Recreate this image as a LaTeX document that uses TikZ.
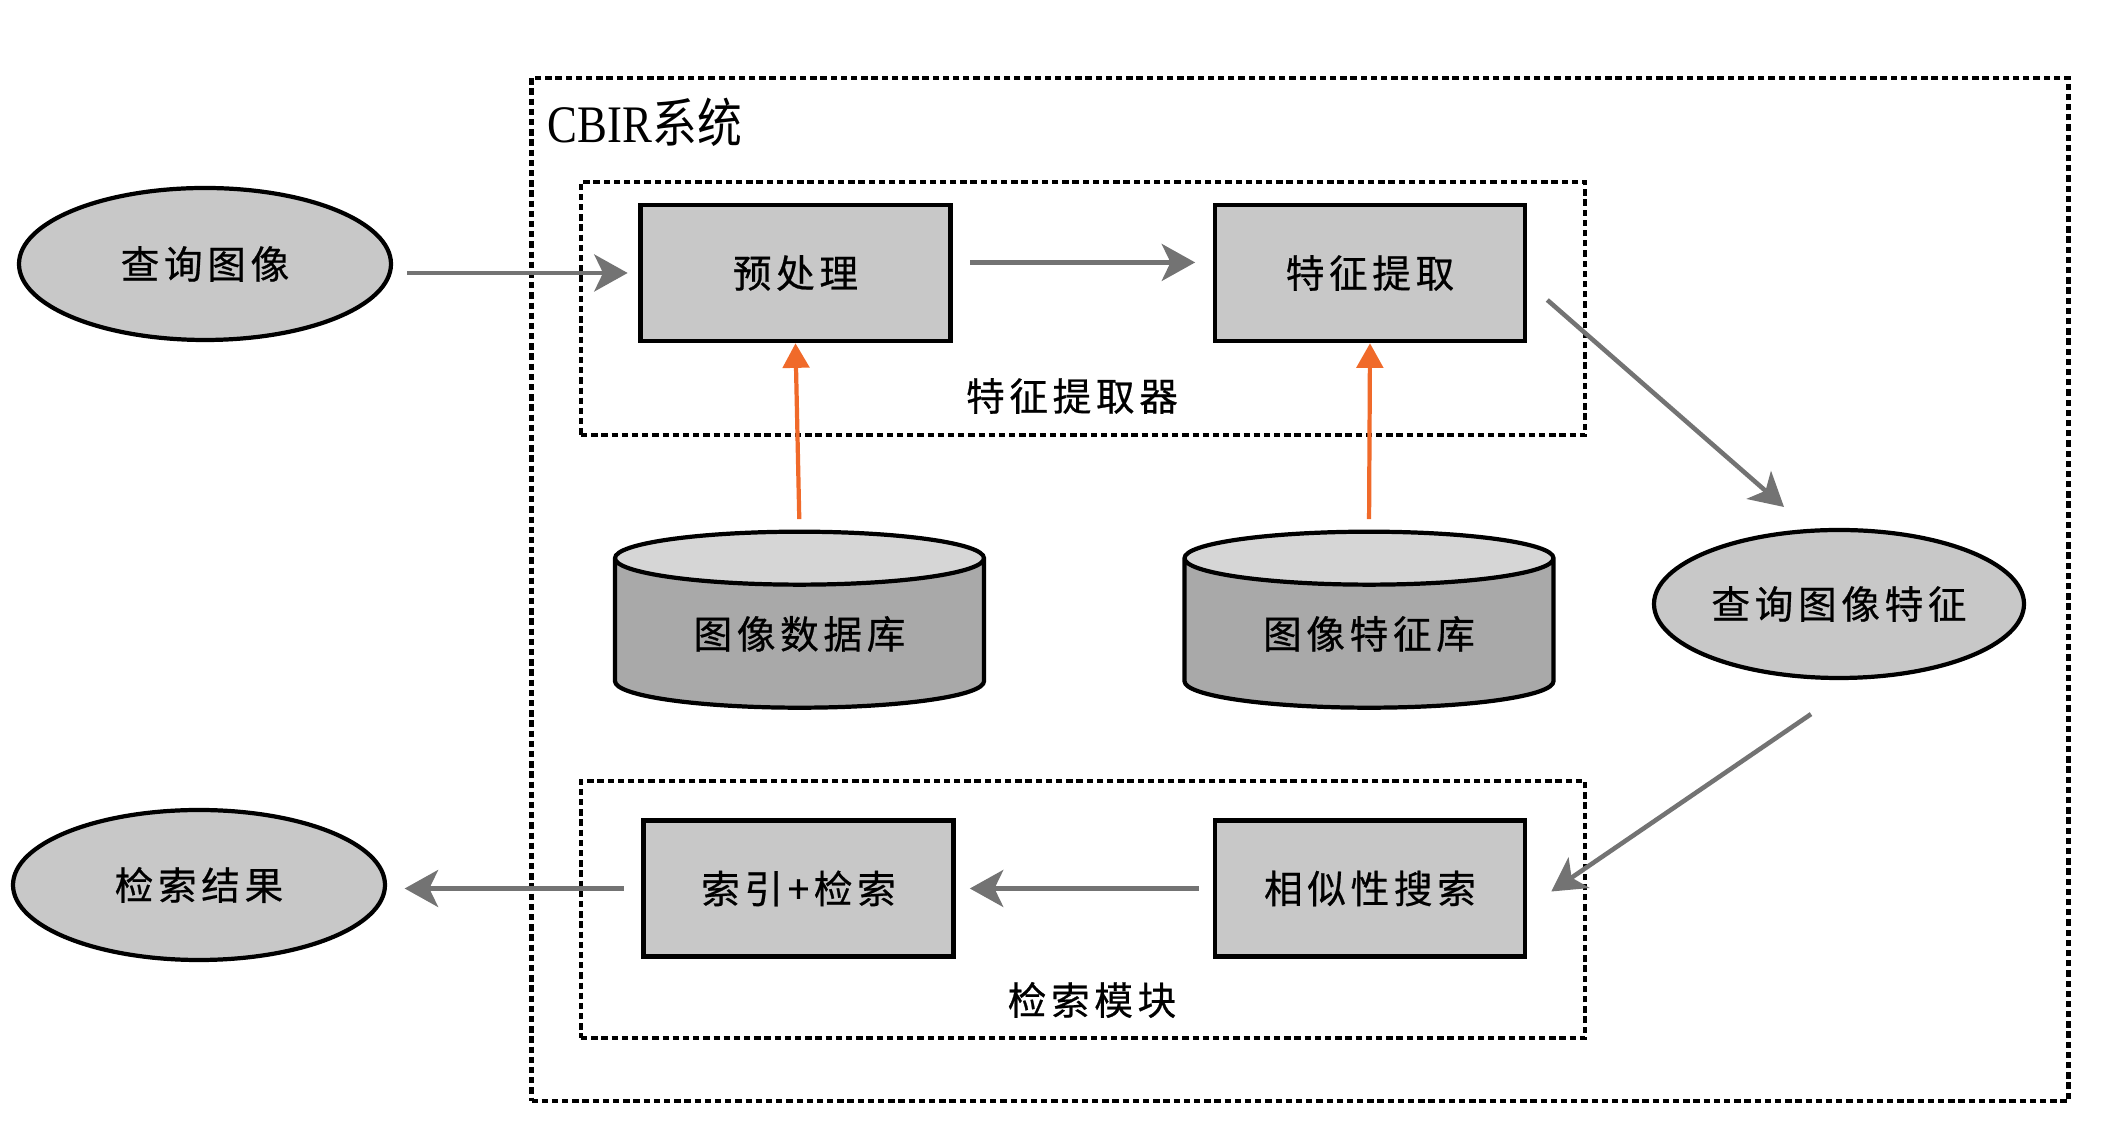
\documentclass[tikz,border=0pt]{standalone}
\usepackage{fontspec}
\setmainfont{Liberation Serif}
\newfontfamily\cjk[LetterSpace=12,FakeBold=0.6]{Noto Sans CJK SC}
\newfontfamily\cjkn{Noto Sans CJK SC}
\usetikzlibrary{shapes.geometric,arrows.meta}
\definecolor{gy1}{HTML}{C8C8C8}
\definecolor{gy2}{HTML}{A9A9A9}
\definecolor{gy3}{HTML}{D6D6D6}
\definecolor{ar1}{HTML}{737373}
\definecolor{o1}{HTML}{F06A2A}
\tikzset{
	proc/.style={draw,line width=1.3pt,fill=gy1,minimum width=3.1cm,minimum height=1.36cm,inner sep=0pt,font=\cjk\fontsize{11}{13}\selectfont},
	oval/.style={ellipse,draw,line width=1.2pt,fill=gy1,minimum width=3.72cm,minimum height=1.52cm,inner sep=0pt,font=\cjk\fontsize{11}{13}\selectfont},
	store/.style={cylinder,shape border rotate=90,aspect=0.25,draw,line width=1.2pt,cylinder uses custom fill,cylinder body fill=gy2,cylinder end fill=gy3,minimum width=3.69cm,minimum height=1.76cm,inner sep=0pt,font=\cjk\fontsize{11}{13}\selectfont},
	dashbox/.style={draw,line width=1.4pt,dash pattern=on 1.8pt off 1.1pt,inner sep=0pt},
	flow/.style={-{Stealth[length=9.5pt,width=10.5pt,inset=2.5pt]},line width=1.3pt,ar1},
	feed/.style={-{Triangle[length=7pt,width=7.5pt]},line width=1.2pt,o1}
}
\begin{document}
\begin{tikzpicture}
	\useasboundingbox (0,0) rectangle (21.19,11.29);
	% frames
	\node [dashbox,minimum width=15.37cm,minimum height=10.23cm] (sys) at (13.0,5.395) {};
	\node [dashbox,minimum width=10.04cm,minimum height=2.53cm] (ext) at (10.83,8.205) {};
	\node [dashbox,minimum width=10.04cm,minimum height=2.57cm] (mod) at (10.83,2.195) {};
	\node [anchor=west,inner sep=0pt,xscale=0.85,transform shape,font=\fontsize{15}{17}\selectfont] (sysl) at (5.47,10.07) {CBIR{\cjkn 系统}};
	\node [font=\cjk\fontsize{11}{13}\selectfont] (extl) at (10.72,7.33) {特征提取器};
	\node [font=\cjk\fontsize{11}{13}\selectfont] (modl) at (10.92,1.29) {检索模块};
	% nodes
	\node [oval] (q) at (2.05,8.65) {查询图像};
	\node [proc] (pre) at (7.955,8.56) {预处理};
	\node [proc] (feat) at (13.70,8.56) {特征提取};
	\node [store] (db) at (7.995,4.95) {图像数据库};
	\node [store] (fdb) at (13.69,4.95) {图像特征库};
	\node [oval,minimum width=3.70cm,minimum height=1.48cm] (qf) at (18.39,5.25) {查询图像特征};
	\node [proc] (sim) at (13.70,2.405) {相似性搜索};
	\node [proc] (idx) at (7.985,2.405) {索引+检索};
	\node [oval,minimum height=1.50cm] (res) at (1.99,2.44) {检索结果};
	% connectors
	\draw [flow,shorten <=4pt,shorten >=3pt] (pre.west -| q.east) -- (pre.west);
	\draw [flow,shorten <=5pt,shorten >=5pt] ([yshift=3pt]pre.east) -- ([yshift=3pt]feat.west);
	\draw [feed,shorten <=3pt] (db.top) -- (pre.south);
	\draw [feed,shorten <=3pt] (fdb.top) -- (feat.south);
	\draw [flow] ([shift={(0.2,-0.27)}]feat.east) -- ([shift={(-0.55,0.97)}]qf.center);
	\draw [flow] ([shift={(-0.28,-0.34)}]qf.south) -- ([shift={(0.24,-0.03)}]sim.east);
	\draw [flow,shorten <=4pt,shorten >=4pt] (sim) -- (idx);
	\draw [flow,shorten <=5pt,shorten >=5pt] (idx.west) -- (idx.west -| res.east);
\end{tikzpicture}
\end{document}
